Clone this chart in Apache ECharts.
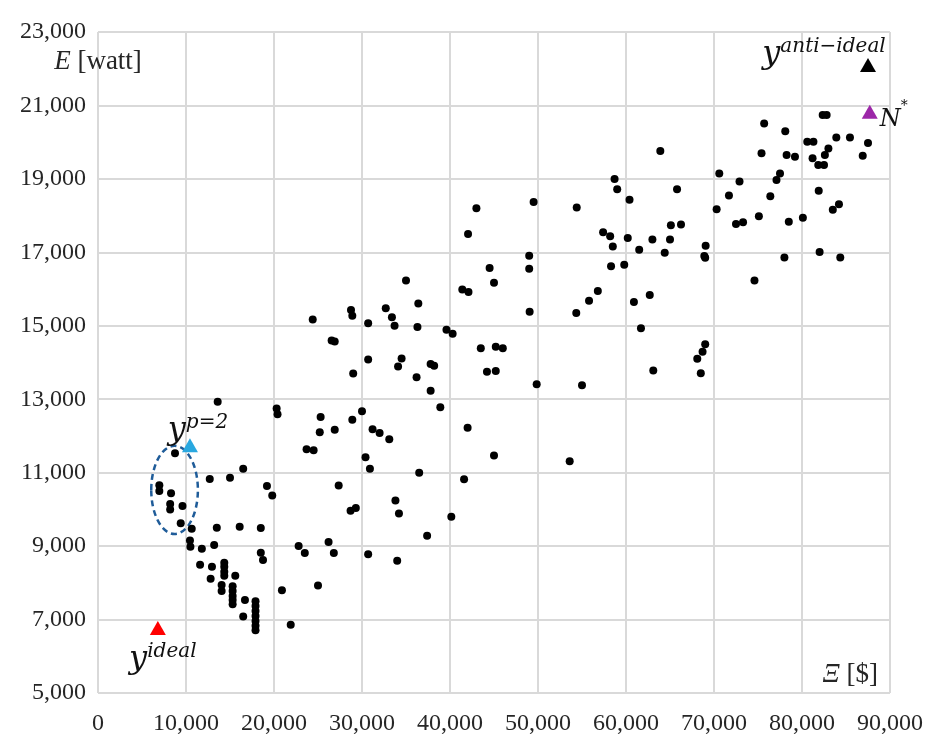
<!DOCTYPE html>
<html><head><meta charset="utf-8">
<script src="https://cdn.jsdelivr.net/npm/echarts@6/dist/echarts.min.js"></script>
<style>html,body{margin:0;padding:0;background:#fff}#c{width:926px;height:742px}</style>
</head><body><div id="c"></div><script>
// Solutions: cost Ξ [$] and power E [watt]
const solutionCost = [
  8750, 6970, 6970, 8300, 8200, 8200, 9600, 9400,
  13600, 20300, 20400, 12700, 15000, 16500, 19200, 19800, 10650, 13500, 16100, 18500,
  10450, 10500, 11800, 13200, 18500, 18750, 22800, 23500, 11600, 12950, 12800,
  14350, 14350, 14350, 14350, 15600, 14050, 14050,
  15300, 15300, 15300, 15300, 15300, 16700, 16500,
  17900, 17900, 17900, 17900, 17900, 17900, 17900, 20900, 21900,
  23700, 24500, 25300, 25200, 26900, 28900, 30000, 31200, 32000, 33100, 30400, 30900, 36500,
  42000, 45000, 41600, 27350, 28700, 29300, 33800, 34200, 40150, 37400, 26200, 26800, 30700,
  34000, 25000, 24400, 28750, 28900, 32700, 33400, 33700, 30700, 36300, 39600, 40300,
  26550, 26900, 30700, 34500, 34100, 37800, 38200, 29000, 36200, 37800, 38900, 35000,
  41400, 42100, 45000, 36400, 43500, 45200, 46000, 44200, 45200, 43000, 42050, 44500,
  49000, 49000, 49500, 54400, 57400, 58200, 58500, 60200, 61500, 63000, 65100, 66250,
  65000, 64400, 58300, 59800, 56800, 55800, 62700, 60900, 58700, 59000, 60400, 63900,
  65800, 49050, 54350, 61700, 49850, 55000, 63100, 53600, 68100, 68500, 69000, 68700,
  75700, 78100, 82350, 82800, 80600, 81300, 83900, 85450, 87500, 86900, 83000, 82600,
  81200, 81850, 82500, 75400, 78250, 79200, 70600, 72900, 77500, 77100, 81900, 71700,
  76400, 70300, 72500, 73300, 75100, 78500, 80100, 83500, 84200, 69050, 68900, 69000,
  78000, 82000, 84350, 74600
];
const solutionPower = [
  11530, 10660, 10500, 10440, 10150, 10000, 10090, 9620,
  12930, 12750, 12590, 10830, 10860, 11110, 10640, 10380, 9470, 9500, 9530, 9490,
  9150, 8980, 8930, 9030, 8820, 8620, 9000, 8810, 8490, 8440, 8110,
  8550, 8440, 8300, 8190, 8190, 7940, 7780,
  7910, 7780, 7640, 7530, 7420, 7530, 7080,
  7500, 7370, 7230, 7100, 6960, 6830, 6710, 7800, 6860,
  11640, 11610, 12515, 12100, 12170, 12440, 12670, 12180, 12080, 11910, 11420, 11110, 11000,
  12220, 11470, 10820, 10650, 9960, 10040, 10240, 9890, 9800, 9280, 9110, 8810, 8780,
  8600, 7930, 15170, 15430, 15270, 15480, 15230, 15000, 15070, 14970, 14890, 14780,
  14600, 14570, 14080, 14110, 13890, 13960, 13910, 13700, 13600, 13230, 12780, 16230,
  15990, 15920, 16170, 15610, 14390, 14430, 14390, 13750, 13770, 18200, 17500, 16570,
  16910, 16550, 18370, 18220, 17550, 17440, 17160, 17390, 17070, 17350, 17740, 17760,
  17350, 16990, 16620, 16660, 15950, 15680, 15840, 15650, 19000, 18720, 18430, 19760,
  18720, 15380, 15350, 14930, 13410, 13380, 13780, 11310, 14100, 13710, 14500, 14290,
  20510, 20300, 20740, 20740, 20010, 20010, 20130, 20130, 19980, 19630, 19830, 19650,
  19560, 19380, 19380, 19700, 19650, 19600, 19150, 18930, 19150, 18970, 18680, 18550,
  18530, 18170, 17770, 17820, 17980, 17830, 17940, 18160, 18310, 17180, 16900, 16850,
  16860, 17010, 16860, 16230
];
// Reference points
const idealPoint = [6800, 6770];
const antiIdealPoint = [87500, 22100];
const nStarPoint = [87700, 20830];
const p2Point = [10450, 11750];
// Dashed ellipse: centre and half-widths in data units
const ellipseCenter = [8700, 10530];
const ellipseRadius = [2650, 1200];
// Axis settings
const xTicks = { min: 0, max: 90000, step: 10000 };
const yTicks = { min: 5000, max: 23000, step: 2000 };

const solutions = solutionCost.map((c, i) => [c, solutionPower[i]]);
const serif = 'Liberation Serif';
const mathFont = 'DejaVu Serif';
const fmt = v => Math.round(v).toLocaleString('en-US');
const mathRich = {
  y: { fontFamily: mathFont, fontStyle: 'italic', fontSize: 32, color: '#111', verticalAlign: 'bottom', lineHeight: 38 },
  s: { fontFamily: mathFont, fontStyle: 'italic', fontSize: 20, color: '#111', verticalAlign: 'top', lineHeight: 20, padding: [4, 0, 0, 0] },
  n: { fontFamily: mathFont, fontStyle: 'italic', fontSize: 24, color: '#111', verticalAlign: 'bottom', lineHeight: 32 },
  st: { fontFamily: mathFont, fontSize: 14, color: '#111', verticalAlign: 'top', lineHeight: 18 }
};

const chart = echarts.init(document.getElementById('c'), null, { renderer: 'canvas' });
chart.setOption({
  backgroundColor: '#fff',
  animation: false,
  grid: { left: 98, right: 36, top: 32, bottom: 49, containLabel: false },
  xAxis: {
    type: 'value', min: xTicks.min, max: xTicks.max, interval: xTicks.step,
    axisLine: { show: false }, axisTick: { show: false },
    splitLine: { show: true, lineStyle: { color: '#d9d9d9', width: 2 } },
    axisLabel: { formatter: fmt, fontFamily: serif, fontSize: 24, color: '#262626', margin: 19 },
    name: '{i|Ξ} [$]', nameLocation: 'end', nameGap: -12,
    nameTextStyle: {
      fontFamily: serif, fontSize: 27, color: '#262626', align: 'right', verticalAlign: 'bottom',
      padding: [0, 0, 5, 0],
      rich: { i: { fontFamily: serif, fontStyle: 'italic', fontSize: 27, color: '#262626' } }
    }
  },
  yAxis: [{
    type: 'value', min: yTicks.min, max: yTicks.max, interval: yTicks.step / 2,
    axisLine: { show: false }, axisTick: { show: false }, splitLine: { show: false },
    axisLabel: {
      formatter: v => ((v - yTicks.min) % yTicks.step === 0 ? fmt(v) : ''),
      fontFamily: serif, fontSize: 24, color: '#262626', margin: 12
    },
    name: '{i|E} [watt]', nameLocation: 'end', nameGap: -16,
    nameTextStyle: {
      fontFamily: serif, fontSize: 27, color: '#262626', align: 'center', verticalAlign: 'top',
      rich: { i: { fontFamily: serif, fontStyle: 'italic', fontSize: 27, color: '#262626' } }
    }
  }, {
    type: 'value', min: 0, max: (yTicks.max - yTicks.min) / yTicks.step, interval: 1,
    position: 'left',
    axisLine: { show: false }, axisTick: { show: false }, axisLabel: { show: false },
    splitLine: { show: true, lineStyle: { color: '#d9d9d9', width: 2 } }
  }],
  series: [
    {
      type: 'custom', name: 'ellipse', z: 3,
      data: [[ellipseCenter[0], ellipseCenter[1], ellipseRadius[0], ellipseRadius[1]]],
      encode: { x: 0, y: 1 },
      renderItem: (params, api) => {
        const c = api.coord([api.value(0), api.value(1)]);
        const s = api.size([api.value(2), api.value(3)]);
        return {
          type: 'ellipse',
          shape: { cx: c[0], cy: c[1], rx: s[0], ry: s[1] },
          style: { fill: 'none', stroke: '#1f5c99', lineWidth: 2.5, lineDash: [6, 4] }
        };
      }
    },
    {
      type: 'scatter', name: 'solutions', data: solutions, symbol: 'circle', symbolSize: 8,
      itemStyle: { color: '#000', opacity: 1 }, z: 4
    },
    {
      type: 'scatter', name: 'ideal', data: [idealPoint], symbol: 'triangle', symbolSize: [16, 14],
      itemStyle: { color: '#ff0000', opacity: 1 }, z: 5,
      label: { show: true, position: 'bottom', distance: 0, offset: [5, 3], formatter: '{y|y}{s|ideal}', rich: mathRich }
    },
    {
      type: 'scatter', name: 'anti-ideal', data: [antiIdealPoint], symbol: 'triangle', symbolSize: [16, 14],
      itemStyle: { color: '#000', opacity: 1 }, z: 5,
      label: { show: true, position: 'top', distance: 0, offset: [-44, 13], formatter: '{y|y}{s|anti−ideal}', rich: mathRich }
    },
    {
      type: 'scatter', name: 'N*', data: [nStarPoint], symbol: 'triangle', symbolSize: [16, 14],
      itemStyle: { color: '#9c27a8', opacity: 1 }, z: 5,
      label: { show: true, position: 'right', distance: 2, offset: [0, 4], formatter: '{n|N}{st|*}', rich: mathRich }
    },
    {
      type: 'scatter', name: 'p2', data: [p2Point], symbol: 'triangle', symbolSize: [16, 14],
      itemStyle: { color: '#29a8e0', opacity: 1 }, z: 5,
      label: { show: true, position: 'top', distance: 0, offset: [8, 9], formatter: '{y|y}{s|p=2}', rich: mathRich }
    }
  ]
});
</script></body></html>
